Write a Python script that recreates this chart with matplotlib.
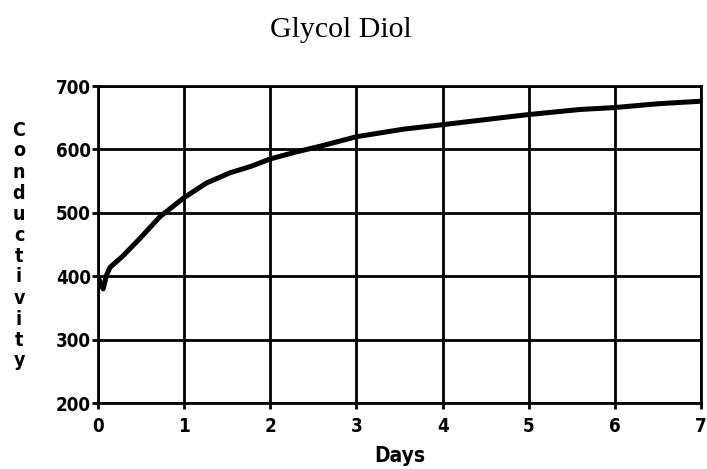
import matplotlib
matplotlib.use("Agg")
import matplotlib.pyplot as plt

# conductivity readings over one week
days = [0.0, 0.03, 0.06, 0.10, 0.14, 0.29, 0.49, 0.72, 1.00, 1.26, 1.53, 1.77,
        2.00, 2.30, 2.58, 3.00, 3.55, 4.00, 4.56, 5.00, 5.60, 6.00, 6.50, 7.00]
conductivity = [400, 388, 380, 402, 414, 432, 460, 494, 524, 547, 563, 573,
                585, 596, 605, 620, 632, 639, 648, 655, 663, 666, 672, 676]

x_ticks = [0, 1, 2, 3, 4, 5, 6, 7]
y_ticks = [200, 300, 400, 500, 600, 700]
y_label = "Conductivity"

BOLD = dict(family="DejaVu Sans", weight="bold", stretch="condensed")
W, H = 707, 469

fig = plt.figure(figsize=(W / 100, H / 100), dpi=100)
ax = fig.add_axes([98 / W, 1 - 403 / H, (701 - 98) / W, (403 - 86) / H])

ax.plot(days, conductivity, color="black", lw=3.6, solid_capstyle="round")

ax.set_xlim(0, 7)
ax.set_ylim(200, 700)
ax.set_xticks(x_ticks)
ax.set_yticks(y_ticks)
ax.set_xticklabels([str(t) for t in x_ticks], fontsize=13.5, **BOLD)
ax.set_yticklabels([str(t) for t in y_ticks], fontsize=13.5, **BOLD)
ax.tick_params(axis="y", direction="out", length=4, width=2, pad=1)
ax.tick_params(axis="x", direction="out", length=4, width=2, pad=6)
ax.grid(True, color="black", lw=2)
for side in ax.spines.values():
    side.set_linewidth(2)
    side.set_color("black")

ax.set_xlabel("Days", fontsize=15, labelpad=7, **BOLD)

# vertical label, one letter per line
for i, ch in enumerate(y_label):
    y_px = 130 + i * 21
    fig.text(19 / W, 1 - y_px / H, ch, fontsize=14, ha="center", va="center", **BOLD)

fig.text(341 / W, 1 - 37 / H, "Glycol Diol", family=["Liberation Serif", "DejaVu Serif"],
         fontsize=21.5, ha="center", va="baseline")

fig.savefig("out.png", dpi=100)
